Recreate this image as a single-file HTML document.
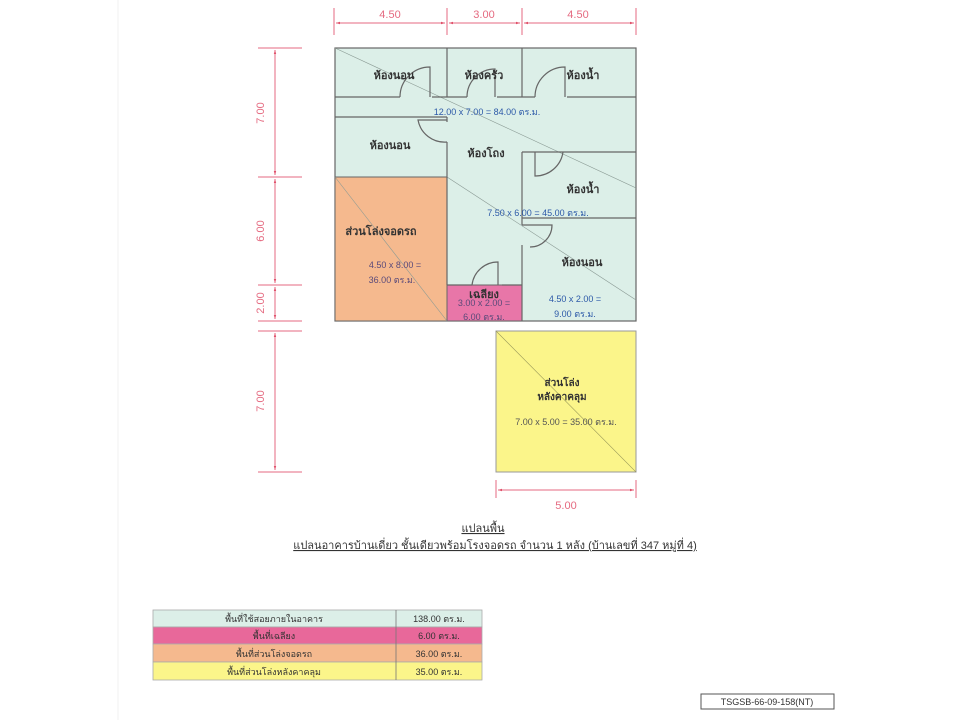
<!DOCTYPE html>
<html><head><meta charset="utf-8"><style>
html,body{margin:0;padding:0;background:#fff;width:960px;height:720px;overflow:hidden}
svg{display:block}
text{font-family:"Liberation Sans","DejaVu Sans",sans-serif}
</style></head><body>
<svg width="960" height="720" viewBox="0 0 960 720" xmlns="http://www.w3.org/2000/svg">
<defs>
<marker id="a" viewBox="0 0 10 10" refX="10" refY="5" markerWidth="6" markerHeight="4" orient="auto-start-reverse"><path d="M0,2 L10,5 L0,8 z" fill="#e0506a"/></marker>
</defs>
<line x1="118" y1="0" x2="118" y2="720" stroke="#f2f2f2"/>
<g stroke="#e56a80" stroke-width="1">
<line x1="334" y1="8" x2="334" y2="35"/><line x1="447" y1="8" x2="447" y2="35"/><line x1="522" y1="8" x2="522" y2="35"/><line x1="636" y1="8" x2="636" y2="35"/>
<line x1="336" y1="23" x2="445" y2="23" marker-start="url(#a)" marker-end="url(#a)"/>
<line x1="449" y1="23" x2="520" y2="23" marker-start="url(#a)" marker-end="url(#a)"/>
<line x1="524" y1="23" x2="634" y2="23" marker-start="url(#a)" marker-end="url(#a)"/>
<line x1="258" y1="48" x2="302" y2="48"/><line x1="258" y1="177" x2="302" y2="177"/><line x1="258" y1="285" x2="302" y2="285"/><line x1="258" y1="321" x2="302" y2="321"/>
<line x1="258" y1="331" x2="302" y2="331"/><line x1="258" y1="472" x2="302" y2="472"/>
<line x1="275" y1="50" x2="275" y2="175" marker-start="url(#a)" marker-end="url(#a)"/>
<line x1="275" y1="179" x2="275" y2="283" marker-start="url(#a)" marker-end="url(#a)"/>
<line x1="275" y1="287" x2="275" y2="319" marker-start="url(#a)" marker-end="url(#a)"/>
<line x1="275" y1="333" x2="275" y2="470" marker-start="url(#a)" marker-end="url(#a)"/>
<line x1="496" y1="480" x2="496" y2="498"/><line x1="636" y1="480" x2="636" y2="498"/>
<line x1="498" y1="490" x2="634" y2="490" marker-start="url(#a)" marker-end="url(#a)"/>
</g>
<g fill="#e56a80" font-size="11" text-anchor="middle">
<text x="390" y="18">4.50</text><text x="484" y="18">3.00</text><text x="578" y="18">4.50</text>
<text x="566" y="509">5.00</text>
<text transform="translate(264,113) rotate(-90)">7.00</text>
<text transform="translate(264,231) rotate(-90)">6.00</text>
<text transform="translate(264,303) rotate(-90)">2.00</text>
<text transform="translate(264,401) rotate(-90)">7.00</text>
</g>
<rect x="335" y="48" width="301" height="273" fill="#dcefe8" stroke="#666" stroke-width="1.2"/>
<rect x="335" y="177" width="112" height="144" fill="#f5b98e" stroke="#666"/>
<rect x="447" y="285" width="75" height="36" fill="#e876a8" stroke="#666"/>
<g stroke="#8a9a94" stroke-width="0.6" fill="none">
<line x1="335" y1="48" x2="636" y2="188"/>
<line x1="335" y1="177" x2="447" y2="321"/>
<line x1="447" y1="177" x2="636" y2="300"/>
</g>
<g stroke="#666" stroke-width="1.2" fill="none">
<line x1="447" y1="48" x2="447" y2="97"/><line x1="522" y1="48" x2="522" y2="97"/>
<line x1="335" y1="97" x2="400" y2="97"/><line x1="432" y1="97" x2="467" y2="97"/><line x1="497" y1="97" x2="535" y2="97"/><line x1="567" y1="97" x2="636" y2="97"/>
<line x1="335" y1="117" x2="447" y2="117"/>
<line x1="447" y1="117" x2="447" y2="122"/><line x1="447" y1="142" x2="447" y2="285"/>
<line x1="522" y1="152" x2="636" y2="152"/><line x1="522" y1="152" x2="522" y2="225"/><line x1="522" y1="245" x2="522" y2="321"/>
<line x1="522" y1="218" x2="636" y2="218"/>
<line x1="447" y1="285" x2="472" y2="285"/><line x1="502" y1="285" x2="522" y2="285"/>
<path d="M400,97 A30,30 0 0 1 430,67 L430,97"/>
<path d="M467,97 A28,28 0 0 1 495,69 L495,97"/>
<path d="M535,97 A30,30 0 0 1 565,67 L565,97"/>
<path d="M447,120 L418,120 A27,27 0 0 0 447,142"/>
<path d="M535,152 L535,176 A28,28 0 0 0 563,152"/>
<path d="M522,225 L552,225 A22,22 0 0 1 530,247"/>
<path d="M472,285 A26,26 0 0 1 498,262 L498,285"/>
</g>
<rect x="496" y="331" width="140" height="141" fill="#fbf58a" stroke="#999"/>
<line x1="496" y1="331" x2="636" y2="472" stroke="#9a9a5a" stroke-width="0.6"/>
<g font-size="11" fill="#333" text-anchor="middle" font-weight="bold">
<text x="394" y="79">ห้องนอน</text><text x="484" y="79">ห้องครัว</text><text x="583" y="79">ห้องน้ำ</text>
<text x="390" y="149">ห้องนอน</text><text x="486" y="157">ห้องโถง</text>
<text x="583" y="193">ห้องน้ำ</text><text x="582" y="266">ห้องนอน</text>
<text x="381" y="235">ส่วนโล่งจอดรถ</text><text x="484" y="298">เฉลียง</text>
<text x="562" y="386" font-size="10">ส่วนโล่ง</text><text x="562" y="400" font-size="10">หลังคาคลุม</text>
</g>
<g font-size="9" fill="#2d5aa8" text-anchor="middle">
<text x="487" y="115">12.00 x 7.00 = 84.00 ตร.ม.</text>
<text x="538" y="216">7.50 x 6.00 = 45.00 ตร.ม.</text>
<text x="575" y="302">4.50 x 2.00 =</text><text x="575" y="317">9.00 ตร.ม.</text>
</g>
<g font-size="9" fill="#5a4a7a" text-anchor="middle">
<text x="395" y="268">4.50 x 8.00 =</text><text x="392" y="283">36.00 ตร.ม.</text>
<text x="484" y="306">3.00 x 2.00 =</text><text x="484" y="320">6.00 ตร.ม.</text>
</g>
<text x="566" y="425" font-size="9" fill="#555" text-anchor="middle">7.00 x 5.00 = 35.00 ตร.ม.</text>
<g font-size="11" fill="#333" text-anchor="middle" text-decoration="underline">
<text x="483" y="532">แปลนพื้น</text>
<text x="495" y="549">แปลนอาคารบ้านเดี่ยว ชั้นเดียวพร้อมโรงจอดรถ จำนวน 1 หลัง (บ้านเลขที่ 347 หมู่ที่ 4)</text>
</g>
<g stroke="#aaa" stroke-width="0.8">
<rect x="153" y="610" width="329" height="17" fill="#dcefe8"/>
<rect x="153" y="627" width="329" height="17" fill="#e8689a"/>
<rect x="153" y="644" width="329" height="18" fill="#f5b98e"/>
<rect x="153" y="662" width="329" height="18" fill="#fbf58a"/>
<line x1="396" y1="610" x2="396" y2="680" stroke="#777"/>
</g>
<g font-size="9" fill="#333" text-anchor="middle">
<text x="274" y="622">พื้นที่ใช้สอยภายในอาคาร</text><text x="439" y="622">138.00 ตร.ม.</text>
<text x="274" y="639">พื้นที่เฉลียง</text><text x="439" y="639">6.00 ตร.ม.</text>
<text x="274" y="657">พื้นที่ส่วนโล่งจอดรถ</text><text x="439" y="657">36.00 ตร.ม.</text>
<text x="274" y="675">พื้นที่ส่วนโล่งหลังคาคลุม</text><text x="439" y="675">35.00 ตร.ม.</text>
</g>
<rect x="701" y="694" width="133" height="15" fill="#fff" stroke="#555"/>
<text x="767" y="705" font-size="9" fill="#333" text-anchor="middle">TSGSB-66-09-158(NT)</text>
</svg>
</body></html>
